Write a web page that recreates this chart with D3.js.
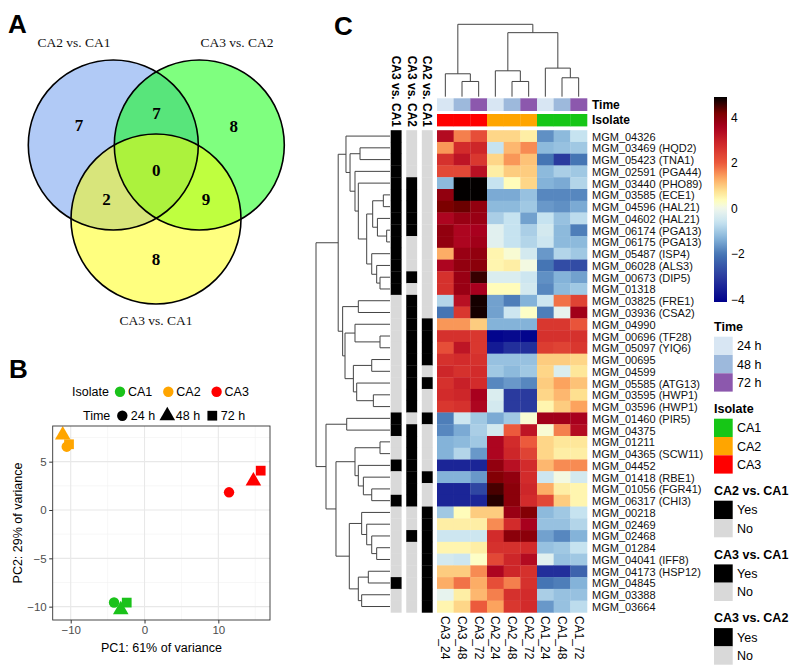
<!DOCTYPE html>
<html><head><meta charset="utf-8">
<script src="https://cdn.jsdelivr.net/npm/d3@7"></script>
<style>body{margin:0;background:#fff} svg{display:block}</style>
</head><body>
<svg id="c" width="794" height="668"></svg>
<script>
// ---------------- DATA ----------------
// Panel A: Venn
const vennSets = ["CA2 vs. CA1", "CA3 vs. CA2", "CA3 vs. CA1"];
const vennRegions = ["100", "010", "001", "110", "101", "011", "111"];
const vennCounts = [7, 8, 8, 7, 2, 9, 0];

// Panel B: PCA
const pcaIsolate = ["CA1","CA1","CA1","CA2","CA2","CA2","CA3","CA3","CA3"];
const pcaTime = ["24 h","48 h","72 h","24 h","48 h","72 h","24 h","48 h","72 h"];
const pc1 = [-4.13, -3.22, -2.41, -10.54, -11.08, -10.23, 11.45, 14.75, 15.74];
const pc2 = [-9.57, -10.33, -9.58, 6.55, 7.76, 6.80, 1.83, 3.00, 4.07];
const pcaXTicks = [-10, 0, 10];
const pcaYTicks = [-10, -5, 0, 5];
const isolates = ["CA1", "CA2", "CA3"];
const times = ["24 h", "48 h", "72 h"];

// Panel C: heatmap
const samples = ["CA3_24","CA3_48","CA3_72","CA2_24","CA2_48","CA2_72","CA1_24","CA1_48","CA1_72"];
const sampleTime = ["24 h","48 h","72 h","24 h","48 h","72 h","24 h","48 h","72 h"];
const sampleIsolate = ["CA3","CA3","CA3","CA2","CA2","CA2","CA1","CA1","CA1"];
const genes = ["MGM_04326","MGM_03469 (HQD2)","MGM_05423 (TNA1)","MGM_02591 (PGA44)","MGM_03440 (PHO89)",
  "MGM_03585 (ECE1)","MGM_04596 (HAL21)","MGM_04602 (HAL21)","MGM_06174 (PGA13)","MGM_06175 (PGA13)",
  "MGM_05487 (ISP4)","MGM_06028 (ALS3)","MGM_00673 (DIP5)","MGM_01318","MGM_03825 (FRE1)",
  "MGM_03936 (CSA2)","MGM_04990","MGM_00696 (TF28)","MGM_05097 (YIQ6)","MGM_00695",
  "MGM_04599","MGM_05585 (ATG13)","MGM_03595 (HWP1)","MGM_03596 (HWP1)","MGM_01460 (PIR5)",
  "MGM_04375","MGM_01211","MGM_04365 (SCW11)","MGM_04452","MGM_01418 (RBE1)",
  "MGM_01056 (FGR41)","MGM_06317 (CHI3)","MGM_00218","MGM_02469","MGM_02468",
  "MGM_01284","MGM_04041 (IFF8)","MGM_04173 (HSP12)","MGM_04845","MGM_03388","MGM_03664"];
const expr = [
  [3.4, 1.7, 2.2, 0.9, 0.9, 0.6, -1.7, -1.2, -0.6],
  [1.5, 2.8, 2.9, -0.6, 1.2, 1.6, -1.2, -1.1, -1.0],
  [2.7, 3.2, 2.6, 0.9, 1.5, 1.1, -2.0, -3.0, -2.0],
  [2.3, 2.3, 3.3, 0.6, 1.0, 1.0, -1.2, -0.9, -1.0],
  [-1.2, 4.9, 4.9, -0.6, 0.4, 0.9, -1.3, -1.4, -0.8],
  [3.9, 4.9, 4.9, -1.4, -1.4, -1.1, -1.8, -1.8, -1.8],
  [4.2, 4.3, 3.9, -1.2, -1.2, -1.0, -1.6, -1.7, -1.4],
  [3.5, 3.8, 3.8, -0.9, -0.6, -1.5, -0.6, -1.1, -0.7],
  [3.9, 3.5, 3.6, -0.2, -0.6, -0.9, -0.4, -1.2, -1.9],
  [3.9, 3.5, 3.7, -0.2, -0.6, -0.8, -0.5, -1.2, -1.2],
  [1.3, 3.8, 3.9, 0.5, 0.2, -0.4, -1.6, -0.8, -1.0],
  [3.5, 3.9, 4.0, 0.5, 0.6, 0.1, -2.0, -2.7, -2.7],
  [2.7, 3.8, 4.6, -0.3, -0.3, -0.5, -1.7, -1.3, -1.5],
  [2.7, 3.8, 3.6, 0.4, 0.4, -0.4, -1.8, -1.2, -1.0],
  [-0.8, 3.3, 4.8, -1.5, -1.9, -1.3, -0.5, 1.8, 2.4],
  [-2.0, 2.6, 4.8, -1.5, -0.5, 0.3, -1.9, -0.1, 3.7],
  [1.5, 1.5, 1.0, -1.3, -1.3, -1.3, 2.6, 2.6, 2.1],
  [2.7, 2.7, 2.6, -4.0, -3.9, -4.0, 2.7, 2.7, 2.7],
  [2.2, 3.2, 2.6, -3.6, -3.2, -3.2, 2.5, 2.4, 2.6],
  [2.7, 2.8, 2.7, -1.1, -1.1, -1.1, 1.0, 1.0, 0.9],
  [2.9, 2.7, 2.8, -1.0, -1.2, -1.0, 0.9, -0.3, 0.7],
  [2.7, 3.0, 2.8, -1.8, -1.6, -1.8, 1.0, 1.4, 1.1],
  [2.8, 2.9, 3.6, -0.3, -3.0, -3.0, 0.9, 1.2, 0.8],
  [2.6, 2.7, 3.5, -0.4, -3.0, -3.0, 0.5, 1.0, 1.4],
  [-1.9, -0.5, -1.0, -1.4, -1.0, 0.2, 3.7, 3.7, 3.6],
  [-1.8, -1.4, -0.9, -0.4, 2.0, 3.2, 0.2, 1.7, 3.4],
  [-1.3, -1.2, -1.0, 3.5, 2.8, 2.0, 0.9, 0.7, 0.7],
  [-1.3, -0.8, -1.6, 3.5, 2.9, 2.4, 0.9, 0.6, 0.6],
  [-3.4, -3.4, -3.4, 3.9, 3.3, 2.8, 1.2, 1.6, 1.6],
  [-1.3, -1.3, -1.6, 4.1, 3.9, 2.8, -0.5, 0.1, -0.4],
  [-3.4, -3.4, -2.8, 4.5, 4.0, 2.9, 1.3, 0.6, 0.5],
  [-3.4, -3.4, -3.4, 4.7, 4.0, 2.8, 2.3, 1.0, 0.5],
  [-1.0, 0.4, 1.0, 1.0, 3.8, 4.1, -1.2, -1.0, -0.6],
  [0.6, 0.6, 0.6, 1.6, 2.8, 3.6, -1.1, -1.1, -0.8],
  [-0.5, -0.5, -0.5, 2.8, 4.0, 4.0, -1.5, -1.8, -1.3],
  [0.5, 0.5, 0.6, 2.7, 2.7, 2.8, -1.1, -1.0, -0.6],
  [-0.4, -0.5, 0.3, 2.3, 2.9, 3.4, -0.2, -1.1, -1.0],
  [1.0, 1.0, 1.6, 3.5, 2.9, 2.7, -3.2, -3.2, -2.3],
  [1.3, 1.8, 1.3, 2.2, 1.7, 2.7, -2.0, -1.9, -1.3],
  [-0.1, 0.6, 1.2, 1.7, 2.7, 2.8, -0.9, -1.1, -1.1],
  [0.5, 0.9, 2.0, 1.4, 2.6, 2.8, -1.6, -1.1, -0.7]
];
const deCA3vsCA1 = [1,1,1,1,1,1,1,1,1,1,1,1,1,1, 0,0,0,0,0,0,0,0,0,0, 1,1, 0,0, 1, 0,0, 1, 0,0,0,0,0,0, 1, 0,0];
const deCA3vsCA2 = [0,0,0,0, 1,1,1,1,1, 0,0,0, 1, 0, 1,1,1,1,1,1,1,1,1,1, 0, 1,1,1,1,1,1,1, 0,0, 1, 0,0,0,0,0,0];
const deCA2vsCA1 = [0,0,0,0,0,0,0,0,0,0,0,0,0,0,0,0, 1,1,1,1, 0, 1, 0,0, 1, 0,0,0,0, 1, 0,0, 1,1,1,1,1,1,1,1,1];
const annoNames = ["CA3 vs. CA1", "CA3 vs. CA2", "CA2 vs. CA1"];
// dendrograms: [mergeHeight, left, right]; leaves are row/column indices
const rowTree = [10,
  [7.0,
    [5.95, 0, [5.4, [4.05, 1, 2], [4.73, 3, [4.28, 4, [3.15, [2.34, [0.9, 5, 6], [1.7, 7, [0.45, 8, 9]]], [2.47, 10, [1.8, 11, [1.35, 12, 13]]]]]]]],
    [6.4, [4.28, 14, 15], [6.08, [4.73, 16, [1.35, 17, 18]], [4.95, [2.47, 19, 20], [4.5, 21, [2.25, 22, 23]]]]]],
  [8.65, [5.85, 24, 25],
    [7.3,
      [4.73, [1.35, 26, 27], [4.28, 28, [3.6, 29, [2.47, 30, 31]]]],
      [5.5, [3.83, 32, [3.15, 33, [2.47, 34, [1.8, 35, 36]]]], [4.28, [2.93, 37, 38], [3.83, 39, 40]]]]]];
const colTree = [72.7, [23, 0, [15.3, 1, 2]], [64.3, [26, 3, [15.3, 4, 5]], [28.7, 6, [19, 7, 8]]]];
const legendTicks = [-4, -2, 0, 2, 4];

// ---------------- DRAW ----------------
const svg = d3.select("#c");
const SANS = "'Liberation Sans', Arial, sans-serif";
const SERIF = "'Liberation Serif', 'Times New Roman', serif";

// panel letters
[["A", 8, 33], ["B", 9, 378], ["C", 334, 35]].forEach(([t, x, y]) =>
  svg.append("text").attr("x", x).attr("y", y).text(t)
    .attr("font-family", SANS).attr("font-weight", "bold").attr("font-size", 26));

// ===== Panel A: Venn =====
const vennCircles = [
  {cx: 113.3, cy: 145, fill: "#6495ED"},
  {cx: 199.3, cy: 145, fill: "#00FF00"},
  {cx: 156, cy: 219, fill: "#FFFF00"}];
const R = 85;
const gA = svg.append("g");
gA.selectAll("circle.f").data(vennCircles).join("circle").attr("class", "f")
  .attr("cx", d => d.cx).attr("cy", d => d.cy).attr("r", R)
  .attr("fill", d => d.fill).attr("fill-opacity", 0.5);
gA.selectAll("circle.s").data(vennCircles).join("circle").attr("class", "s")
  .attr("cx", d => d.cx).attr("cy", d => d.cy).attr("r", R)
  .attr("fill", "none").attr("stroke", "#000").attr("stroke-width", 1.6);
// region centroids
const acc = {};
for (let px = 20; px < 300; px += 1) for (let py = 50; py < 310; py += 1) {
  const k = vennCircles.map(c => ((px - c.cx) ** 2 + (py - c.cy) ** 2 <= R * R) ? "1" : "0").join("");
  if (k === "000") continue;
  (acc[k] = acc[k] || {x: 0, y: 0, n: 0}); acc[k].x += px; acc[k].y += py; acc[k].n++;
}
vennRegions.forEach((k, i) => {
  const a = acc[k];
  gA.append("text").attr("x", a.x / a.n).attr("y", a.y / a.n + 1).text(vennCounts[i])
    .attr("text-anchor", "middle").attr("dominant-baseline", "central")
    .attr("font-family", SERIF).attr("font-weight", "bold").attr("font-size", 17);
});
[[vennSets[0], 74, 47], [vennSets[1], 237, 47], [vennSets[2], 156, 325]].forEach(([t, x, y]) =>
  gA.append("text").attr("x", x).attr("y", y).text(t).attr("text-anchor", "middle")
    .attr("font-family", SERIF).attr("font-size", 13.5).attr("fill", "#111"));

// ===== Panel B: PCA =====
const isoColor = d3.scaleOrdinal().domain(isolates).range(["#1ac21a", "#FFA500", "#FF0000"]);
const timeShape = d3.scaleOrdinal().domain(times).range([d3.symbolCircle, d3.symbolTriangle, d3.symbolSquare]);
const timeSize = d3.scaleOrdinal().domain(times).range([85, 105, 95]);
const px = d3.scaleLinear().domain([-12.44, 17.0]).range([52.7, 270]);
const py = d3.scaleLinear().domain([-11.38, 8.69]).range([620, 426]);
const gB = svg.append("g");
gB.append("rect").attr("x", 52.7).attr("y", 426).attr("width", 270 - 52.7).attr("height", 194).attr("fill", "#fff");
const minorX = [-5, 5, 15], minorY = [-7.5, -2.5, 2.5, 7.5];
minorX.forEach(v => gB.append("line").attr("x1", px(v)).attr("x2", px(v)).attr("y1", 426).attr("y2", 620).attr("stroke", "#f2f2f2").attr("stroke-width", 0.6));
minorY.forEach(v => gB.append("line").attr("y1", py(v)).attr("y2", py(v)).attr("x1", 52.7).attr("x2", 270).attr("stroke", "#f2f2f2").attr("stroke-width", 0.6));
pcaXTicks.forEach(v => gB.append("line").attr("x1", px(v)).attr("x2", px(v)).attr("y1", 426).attr("y2", 620).attr("stroke", "#e8e8e8").attr("stroke-width", 1.1));
pcaYTicks.forEach(v => gB.append("line").attr("y1", py(v)).attr("y2", py(v)).attr("x1", 52.7).attr("x2", 270).attr("stroke", "#e8e8e8").attr("stroke-width", 1.1));
gB.selectAll("path.pt").data(pc1.map((v, i) => i)).join("path").attr("class", "pt")
  .attr("transform", i => `translate(${px(pc1[i])},${py(pc2[i])})`)
  .attr("d", i => d3.symbol(timeShape(pcaTime[i]), timeSize(pcaTime[i]))())
  .attr("fill", i => isoColor(pcaIsolate[i]));
gB.append("rect").attr("x", 52.7).attr("y", 426).attr("width", 270 - 52.7).attr("height", 194)
  .attr("fill", "none").attr("stroke", "#333").attr("stroke-width", 0.9);
const ax = gB.append("g").attr("transform", "translate(0,620)")
  .call(d3.axisBottom(px).tickValues(pcaXTicks).tickSize(3.5).tickPadding(2.5).tickSizeOuter(0));
const ay = gB.append("g").attr("transform", "translate(52.7,0)")
  .call(d3.axisLeft(py).tickValues(pcaYTicks).tickSize(3.5).tickPadding(2.5).tickSizeOuter(0));
[ax, ay].forEach(a => {
  a.select(".domain").remove();
  a.selectAll(".tick line").attr("stroke", "#333");
  a.selectAll(".tick text").attr("fill", "#4d4d4d").attr("font-size", 11.5).attr("font-family", SANS);
});
gB.append("text").attr("x", 161.4).attr("y", 652).attr("text-anchor", "middle").text("PC1: 61% of variance")
  .attr("font-family", SANS).attr("font-size", 12.5);
gB.append("text").attr("transform", "translate(22,523) rotate(-90)").attr("text-anchor", "middle")
  .text("PC2: 29% of variance").attr("font-family", SANS).attr("font-size", 12.5);
// legend
gB.append("text").attr("x", 72).attr("y", 396).text("Isolate").attr("font-family", SANS).attr("font-size", 12.5);
isolates.forEach((s, i) => {
  const cx = 120 + i * 48.3;
  gB.append("path").attr("transform", `translate(${cx},391.7)`).attr("d", d3.symbol(d3.symbolCircle, 85)()).attr("fill", isoColor(s));
  gB.append("text").attr("x", cx + 8).attr("y", 396).text(s).attr("font-family", SANS).attr("font-size", 12.5);
});
gB.append("text").attr("x", 83).attr("y", 420).text("Time").attr("font-family", SANS).attr("font-size", 12.5);
times.forEach((s, i) => {
  const cx = 122.3 + i * 45;
  gB.append("path").attr("transform", `translate(${cx},415.7)`).attr("d", d3.symbol(timeShape(s), timeSize(s))()).attr("fill", "#000");
  gB.append("text").attr("x", cx + 8.5).attr("y", 420).text(s).attr("font-family", SANS).attr("font-size", 12.5);
});

// ===== Panel C: heatmap =====
const gC = svg.append("g");
const heatScale = d3.scaleLinear()
  .domain([-4.09, -3.0, -2.0, -1.3, -0.6, 0, 0.35, 0.8, 1.4, 2.0, 2.8, 3.6, 4.2, 4.92])
  .range(["#00008b", "#2a3a9e", "#4575b4", "#84b3d9", "#c6e3f0", "#eef6ee", "#ffffbf", "#fee090", "#fca35e", "#ec5a3c", "#d22b2b", "#a8001e", "#7c0000", "#000000"])
  .interpolate(d3.interpolateRgb);
const rowY = d3.scaleBand().domain(d3.range(genes.length)).range([130.2, 612.4]);
const colX = d3.scaleBand().domain(d3.range(samples.length)).range([437, 587]);
// cells
expr.forEach((row, r) => row.forEach((v, c) => {
  gC.append("rect").attr("x", colX(c)).attr("y", rowY(r))
    .attr("width", colX.bandwidth() + 0.3).attr("height", rowY.bandwidth() + 0.3)
    .attr("fill", heatScale(v));
}));
// top annotations
const timeColor = d3.scaleOrdinal().domain(times).range(["#d8e6f3", "#9db9dc", "#8c58ad"]);
const isoBar = d3.scaleOrdinal().domain(isolates).range(["#16c616", "#FFA500", "#FF0000"]);
samples.forEach((s, c) => {
  gC.append("rect").attr("x", colX(c)).attr("y", 98.3).attr("width", colX.bandwidth() + 0.3).attr("height", 12.7).attr("fill", timeColor(sampleTime[c]));
  gC.append("rect").attr("x", colX(c)).attr("y", 114).attr("width", colX.bandwidth() + 0.3).attr("height", 12.4).attr("fill", isoBar(sampleIsolate[c]));
  gC.append("text").attr("transform", `translate(${colX(c) + colX.bandwidth() / 2},616) rotate(90)`)
    .attr("dominant-baseline", "central").text(s).attr("font-family", SANS).attr("font-size", 12);
});
gC.append("text").attr("x", 592).attr("y", 104.7).attr("dominant-baseline", "central").text("Time")
  .attr("font-family", SANS).attr("font-weight", "bold").attr("font-size", 12);
gC.append("text").attr("x", 592).attr("y", 120.2).attr("dominant-baseline", "central").text("Isolate")
  .attr("font-family", SANS).attr("font-weight", "bold").attr("font-size", 12);
// row annotations
const annoX = d3.scaleBand().domain(annoNames).range([390.7, 432.7]).paddingInner(0.3);
const annoData = [deCA3vsCA1, deCA3vsCA2, deCA2vsCA1];
annoNames.forEach((nm, k) => {
  annoData[k].forEach((v, r) => gC.append("rect").attr("x", annoX(nm)).attr("y", rowY(r))
    .attr("width", annoX.bandwidth()).attr("height", rowY.bandwidth() + 0.3).attr("fill", v ? "#000" : "#d9d9d9"));
  gC.append("text").attr("transform", `translate(${annoX(nm) + annoX.bandwidth() / 2},127) rotate(90)`)
    .attr("text-anchor", "end").attr("dominant-baseline", "central").text(nm)
    .attr("font-family", SANS).attr("font-weight", "bold").attr("font-size", 12);
});
// row labels
genes.forEach((g, r) => gC.append("text").attr("x", 592).attr("y", rowY(r) + rowY.bandwidth() / 2 + 0.5)
  .attr("dominant-baseline", "central").text(g).attr("font-family", SANS).attr("font-size", 11).attr("fill", "#111"));

// dendrograms
function buildTree(tree, leafPos) {
  const root = d3.hierarchy(tree, d => Array.isArray(d) ? [d[1], d[2]] : null);
  root.eachAfter(n => {
    if (!n.children) { n.h = 0; n.pos = leafPos(n.data); }
    else { n.h = n.data[0]; n.pos = (n.children[0].pos + n.children[1].pos) / 2; }
  });
  return root;
}
const rowRoot = buildTree(rowTree, i => rowY(i) + rowY.bandwidth() / 2);
const rowH = d3.scaleLinear().domain([0, rowRoot.h]).range([390, 316]);
rowRoot.descendants().filter(n => n.children).forEach(n => {
  const [a, b] = n.children;
  gC.append("path").attr("d", `M${rowH(a.h)},${a.pos}H${rowH(n.h)}V${b.pos}H${rowH(b.h)}`)
    .attr("fill", "none").attr("stroke", "#444").attr("stroke-width", 1);
});
const colRoot = buildTree(colTree, i => colX(i) + colX.bandwidth() / 2);
const colH = d3.scaleLinear().domain([0, colRoot.h]).range([96.7, 24.3]);
colRoot.descendants().filter(n => n.children).forEach(n => {
  const [a, b] = n.children;
  gC.append("path").attr("d", `M${a.pos},${colH(a.h)}V${colH(n.h)}H${b.pos}V${colH(b.h)}`)
    .attr("fill", "none").attr("stroke", "#444").attr("stroke-width", 1);
});

// colour bar legend
const cbY = d3.scaleLinear().domain(heatScale.domain()[0] === -4.09 ? [-4.09, 4.92] : [-4, 5]).range([302, 97]);
const grad = svg.append("defs").append("linearGradient").attr("id", "cb").attr("x1", 0).attr("y1", 1).attr("x2", 0).attr("y2", 0);
d3.range(0, 1.0001, 0.02).forEach(t => {
  const v = -4.09 + t * (4.92 + 4.09);
  grad.append("stop").attr("offset", t).attr("stop-color", heatScale(v));
});
gC.append("rect").attr("x", 714).attr("y", 97).attr("width", 13).attr("height", 205).attr("fill", "url(#cb)");
legendTicks.forEach(t => gC.append("text").attr("x", 731).attr("y", cbY(t)).attr("dominant-baseline", "central")
  .text(d3.format("")(t)).attr("font-family", SANS).attr("font-size", 12));

// discrete legends
const legends = [
  {title: "Time", items: times, color: timeColor},
  {title: "Isolate", items: isolates, color: isoBar},
  {title: "CA2 vs. CA1", items: ["Yes", "No"], color: d => d === "Yes" ? "#000" : "#d9d9d9"},
  {title: "CA3 vs. CA1", items: ["Yes", "No"], color: d => d === "Yes" ? "#000" : "#d9d9d9"},
  {title: "CA3 vs. CA2", items: ["Yes", "No"], color: d => d === "Yes" ? "#000" : "#d9d9d9"}];
let ly = 331;
legends.forEach(L => {
  gC.append("text").attr("x", 714).attr("y", ly).text(L.title)
    .attr("font-family", SANS).attr("font-weight", "bold").attr("font-size", 12.5);
  L.items.forEach((it, i) => {
    const y0 = ly + 5.7 + i * 18.3;
    gC.append("rect").attr("x", 714).attr("y", y0).attr("width", 18.7).attr("height", 18.3).attr("fill", L.color(it));
    gC.append("text").attr("x", 737).attr("y", y0 + 9.6).attr("dominant-baseline", "central").text(it)
      .attr("font-family", SANS).attr("font-size", 12.5);
  });
  ly += 5.7 + L.items.length * 18.3 + 21.4;
});
</script>
</body></html>
